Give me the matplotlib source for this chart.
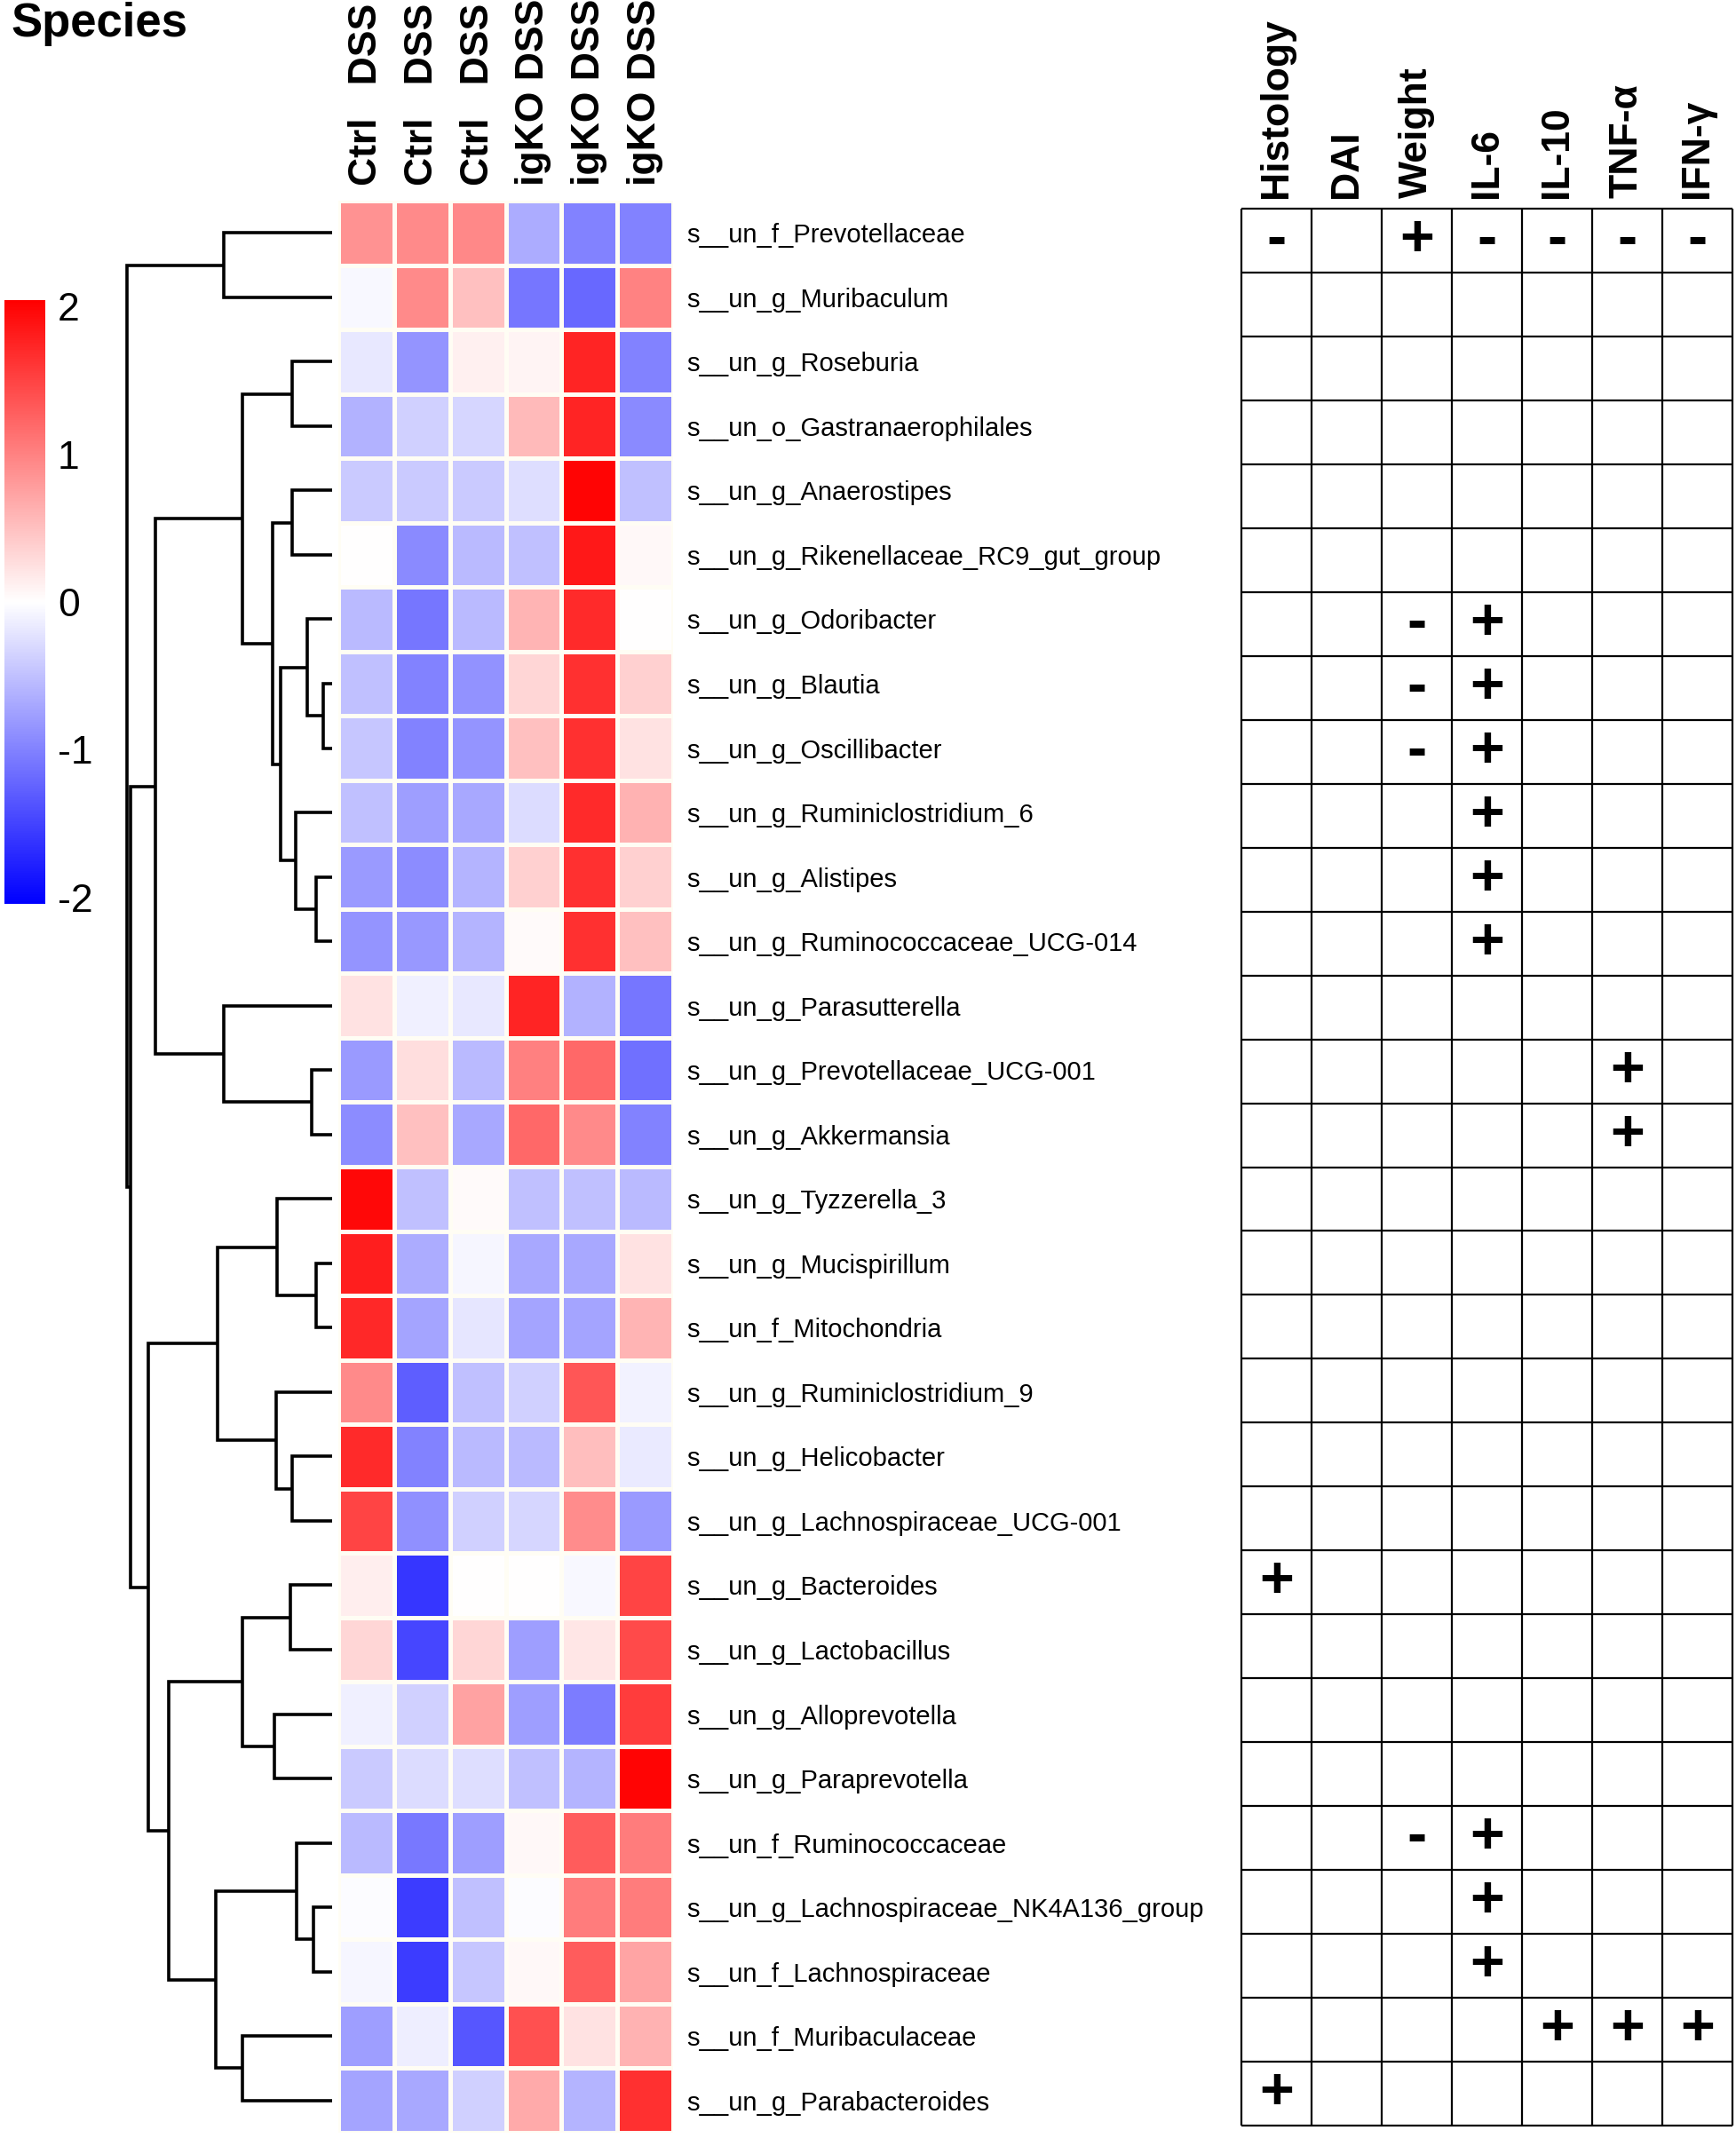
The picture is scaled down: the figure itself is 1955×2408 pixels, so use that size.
import matplotlib
import matplotlib.pyplot as plt
import numpy as np
from matplotlib.colors import LinearSegmentedColormap, Normalize
from matplotlib.cm import ScalarMappable

matplotlib.use("Agg")
plt.rcParams["font.family"] = ["Liberation Sans", "DejaVu Sans"]
plt.rcParams["axes.unicode_minus"] = False

W, H = 1955, 2408

samples = ["Ctrl   DSS", "Ctrl   DSS", "Ctrl   DSS", "igKO DSS", "igKO DSS", "igKO DSS"]

species = [
    "s__un_f_Prevotellaceae", "s__un_g_Muribaculum", "s__un_g_Roseburia",
    "s__un_o_Gastranaerophilales", "s__un_g_Anaerostipes",
    "s__un_g_Rikenellaceae_RC9_gut_group", "s__un_g_Odoribacter",
    "s__un_g_Blautia", "s__un_g_Oscillibacter", "s__un_g_Ruminiclostridium_6",
    "s__un_g_Alistipes", "s__un_g_Ruminococcaceae_UCG-014",
    "s__un_g_Parasutterella", "s__un_g_Prevotellaceae_UCG-001",
    "s__un_g_Akkermansia", "s__un_g_Tyzzerella_3", "s__un_g_Mucispirillum",
    "s__un_f_Mitochondria", "s__un_g_Ruminiclostridium_9",
    "s__un_g_Helicobacter", "s__un_g_Lachnospiraceae_UCG-001",
    "s__un_g_Bacteroides", "s__un_g_Lactobacillus", "s__un_g_Alloprevotella",
    "s__un_g_Paraprevotella", "s__un_f_Ruminococcaceae",
    "s__un_g_Lachnospiraceae_NK4A136_group", "s__un_f_Lachnospiraceae",
    "s__un_f_Muribaculaceae", "s__un_g_Parabacteroides",
]

# z-scores, one row per species, columns in sample order
zscores = [
    [0.87, 0.93, 0.95, -0.67, -1.00, -1.00],
    [-0.05, 0.93, 0.50, -1.10, -1.20, 1.00],
    [-0.18, -0.85, 0.12, 0.08, 1.75, -1.00],
    [-0.62, -0.37, -0.33, 0.55, 1.75, -0.93],
    [-0.43, -0.43, -0.43, -0.27, 2.00, -0.50],
    [0.00, -0.93, -0.55, -0.50, 1.85, 0.05],
    [-0.55, -1.10, -0.55, 0.60, 1.70, 0.00],
    [-0.50, -1.00, -0.87, 0.33, 1.65, 0.37],
    [-0.46, -1.00, -0.85, 0.50, 1.65, 0.23],
    [-0.50, -0.78, -0.70, -0.28, 1.70, 0.62],
    [-0.80, -0.92, -0.60, 0.37, 1.65, 0.37],
    [-0.85, -0.82, -0.60, 0.04, 1.65, 0.50],
    [0.23, -0.12, -0.18, 1.75, -0.62, -1.10],
    [-0.80, 0.27, -0.55, 1.02, 1.20, -1.15],
    [-0.92, 0.50, -0.70, 1.20, 0.93, -1.00],
    [1.97, -0.50, 0.04, -0.50, -0.50, -0.55],
    [1.80, -0.67, -0.07, -0.70, -0.70, 0.23],
    [1.72, -0.73, -0.20, -0.73, -0.73, 0.60],
    [0.93, -1.28, -0.50, -0.37, 1.35, -0.10],
    [1.70, -1.00, -0.55, -0.55, 0.52, -0.17],
    [1.50, -0.88, -0.37, -0.32, 0.92, -0.80],
    [0.14, -1.60, 0.00, 0.00, -0.05, 1.50],
    [0.33, -1.47, 0.32, -0.78, 0.20, 1.45],
    [-0.12, -0.37, 0.75, -0.78, -1.05, 1.55],
    [-0.43, -0.28, -0.27, -0.50, -0.60, 2.00],
    [-0.55, -1.08, -0.77, 0.05, 1.30, 1.05],
    [-0.03, -1.55, -0.50, -0.02, 1.05, 1.05],
    [-0.07, -1.55, -0.46, 0.05, 1.30, 0.72],
    [-0.78, -0.13, -1.35, 1.40, 0.23, 0.62],
    [-0.72, -0.70, -0.38, 0.68, -0.60, 1.65],
]

# row dendrogram: (left, right, height); ids >= 30 are earlier merges
row_merges = [
    (0, 1, 300), (2, 3, 112), (4, 5, 110), (7, 8, 24), (6, 33, 69),
    (10, 11, 45), (9, 35, 102), (34, 36, 142), (32, 37, 165), (31, 38, 249),
    (13, 14, 56), (12, 40, 302), (39, 41, 492), (16, 17, 45), (15, 43, 153),
    (19, 20, 110), (18, 45, 156), (44, 46, 319), (21, 22, 115), (23, 24, 161),
    (48, 49, 249), (26, 27, 53), (25, 51, 99), (28, 29, 249), (52, 53, 323),
    (50, 54, 455), (47, 55, 512), (42, 56, 560), (30, 57, 570),
]

traits = ["Histology", "DAI", "Weight", "IL-6", "IL-10", "TNF-α", "IFN-γ"]

# correlation sign per species and trait ('.' = none)
trait_signs = [
    "-.+----", ".......", ".......", ".......", ".......", ".......",
    "..-+...", "..-+...", "..-+...", "...+...", "...+...", "...+...",
    ".......", ".....+.", ".....+.", ".......", ".......", ".......",
    ".......", ".......", ".......", "+......", ".......", ".......",
    ".......", "..-+...", "...+...", "...+...", "....+++", "+......",
]


def px_axes(fig, x0, y0, x1, y1):
    return fig.add_axes([x0 / W, 1 - y1 / H, (x1 - x0) / W, (y1 - y0) / H])


def dendro_segments(merges, n):
    pos = {i: i + 0.5 for i in range(n)}
    hgt = {i: 0.0 for i in range(n)}
    segs = []
    for k, (a, b, h) in enumerate(merges):
        segs.append(([hgt[a], h, h, hgt[b]], [pos[a], pos[a], pos[b], pos[b]]))
        pos[n + k] = (pos[a] + pos[b]) / 2
        hgt[n + k] = h
    return segs


fig = plt.figure(figsize=(W / 100, H / 100), dpi=100)
cmap = LinearSegmentedColormap.from_list("bwr2", ["#0000FF", "#FFFFFF", "#FF0000"])
norm = Normalize(vmin=-2.045, vmax=2.045)
n_rows = len(species)

fig.text(12 / W, 1 - 41 / H, "Species", fontsize=38, fontweight="bold",
         ha="left", va="baseline")

# dendrogram
ax_d = px_axes(fig, 143, 226, 374, 2402)
for xs, ys in dendro_segments(row_merges, n_rows):
    ax_d.plot(xs, ys, color="black", lw=2.6, solid_capstyle="butt",
              solid_joinstyle="miter", clip_on=False)
ax_d.set_xlim(570, 0)
ax_d.set_ylim(n_rows, 0)
ax_d.axis("off")

# heatmap
ax_h = px_axes(fig, 381, 226, 758, 2402)
ax_h.pcolormesh(np.array(zscores), cmap=cmap, norm=norm,
                edgecolors="#FFFDF4", linewidth=2.2)
ax_h.set_xlim(0, len(samples))
ax_h.set_ylim(n_rows, 0)
ax_h.set_xticks([])
ax_h.yaxis.tick_right()
ax_h.set_yticks(np.arange(n_rows) + 0.5)
ax_h.set_yticklabels(species, fontsize=21)
ax_h.tick_params(axis="y", length=0, pad=11)
for s in ax_h.spines.values():
    s.set_visible(False)
for j, lab in enumerate(samples):
    ax_h.text(j + 0.5, -17 / 72.5, lab, rotation=90, ha="center", va="bottom",
              fontsize=32, fontweight="bold", clip_on=False)

# colour bar
cax = px_axes(fig, 5, 338, 51, 1018)
cb = fig.colorbar(ScalarMappable(norm=norm, cmap=cmap), cax=cax,
                  ticks=[-2, -1, 0, 1, 2])
cb.outline.set_visible(False)
cax.tick_params(length=0, labelsize=32, pad=10)

# trait correlation table
ax_t = px_axes(fig, 1398, 235, 1951, 2394)
n_tr = len(traits)
ax_t.set_xlim(0, n_tr)
ax_t.set_ylim(n_rows, 0)
ax_t.hlines(np.arange(n_rows + 1), 0, n_tr, color="black", lw=1.6, clip_on=False)
ax_t.vlines(np.arange(n_tr + 1), 0, n_rows, color="black", lw=1.6, clip_on=False)
ax_t.axis("off")
for j, lab in enumerate(traits):
    ax_t.text(j + 0.5, -12 / 72, lab, rotation=90, ha="center", va="bottom",
              fontsize=32, fontweight="bold", clip_on=False)
for i, row in enumerate(trait_signs):
    for j, ch in enumerate(row):
        if ch != ".":
            ax_t.text(j + 0.5, i + 0.5, ch, ha="center", va="center",
                      fontsize=48, fontweight="bold")

fig.savefig("out.png", dpi=100)
